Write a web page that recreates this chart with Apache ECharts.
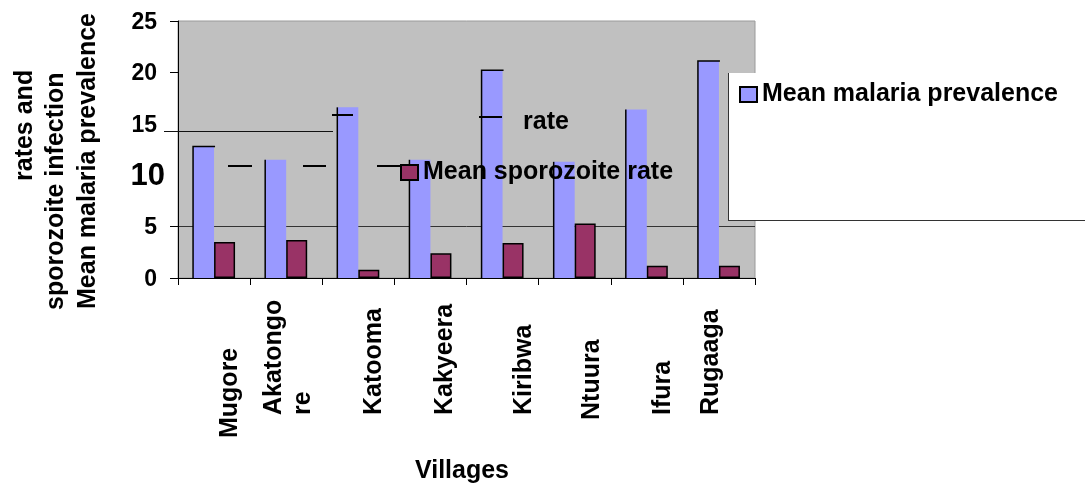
<!DOCTYPE html>
<html>
<head>
<meta charset="utf-8">
<script src="https://cdn.jsdelivr.net/npm/echarts@6/dist/echarts.min.js"></script>
<style>
html,body{margin:0;padding:0;background:#fff;}
#chart{width:1085px;height:483px;}
</style>
</head>
<body>
<div id="chart"></div>
<script>
// ---- data ----
const villages = ['Mugore', 'Akatongore', 'Katooma', 'Kakyeera', 'Kiribwa', 'Ntuura', 'Ifura', 'Rugaaga'];
const villageLabels = ['Mugore', 'Akatongo\nre', 'Katooma', 'Kakyeera', 'Kiribwa', 'Ntuura', 'Ifura', 'Rugaaga'];
const malariaPrevalence = [12.8, 11.5, 16.6, 11.5, 20.2, 11.3, 16.4, 21.1];
const sporozoiteRate = [3.5, 3.7, 0.8, 2.4, 3.4, 5.3, 1.2, 1.2];
const yTicks = [0, 5, 10, 15, 20, 25];
const yTickMarks = [0, 5, 20, 25];
const seriesNames = ['Mean malaria prevalence', 'Mean sporozoite rate'];
const axisTitleLines = ['rates and', 'sporozoite infection', 'Mean malaria prevalence'];
const xAxisTitle = 'Villages';

// ---- styling ----
const FONT = "'Liberation Sans', Arial, sans-serif";
const BLUE = '#9999FF', MAROON = '#993366', PLOT_BG = '#C0C0C0';
const labelShift = [16, 2.5, 16, 15, 22, 17, 16, -8];   // perpendicular label nudges (px)
const labelStart = [0, 23, 23, 23, 23, 18, 23, 23];     // distance from label anchor (px)
const blueTopEdge = [true, false, false, false, true, false, false, true];

const rich = {};
villages.forEach((v, i) => {
  const d = labelShift[i];
  const lh = i === 1 ? 29 : 25;
  rich['L' + i] = {
    fontFamily: FONT, fontSize: 25, fontWeight: 'bold', color: '#000',
    lineHeight: lh,
    padding: [Math.max(0, 2 * d), 0, Math.max(0, -2 * d), labelStart[i]]
  };
});

const chart = echarts.init(document.getElementById('chart'), null, {renderer: 'canvas'});

const option = {
  animation: false,
  backgroundColor: '#fff',
  grid: {left: 178, top: 21, width: 577, height: 257, show: true, containLabel: false,
         outerBoundsMode: 'none',
         backgroundColor: PLOT_BG, borderColor: '#9a9a9a', borderWidth: 1},
  xAxis: {
    type: 'category', data: villages,
    axisLine: {lineStyle: {color: '#000', width: 1}},
    axisTick: {show: true, length: 7, lineStyle: {color: '#000'}},
    axisLabel: {
      interval: 0, rotate: 90, align: 'left', verticalAlign: 'middle', margin: 160,
      formatter: (v, i) => villageLabels[i].split('\n').map(s => '{L' + i + '|' + s + '}').join('\n'),
      rich: rich
    },
    name: xAxisTitle, nameLocation: 'middle', nameGap: 181,
    nameTextStyle: {fontFamily: FONT, fontSize: 25, fontWeight: 'bold', color: '#000', padding: [0, 9, 0, 0]}
  },
  yAxis: {
    type: 'value', min: 0, max: 25, interval: 5,
    axisLine: {show: true, lineStyle: {color: '#000', width: 1}},
    axisTick: {show: true, length: 8, customValues: yTickMarks, lineStyle: {color: '#000'}},
    axisLabel: {
      margin: 13,
      customValues: yTicks,
      formatter: v => v === 10 ? '{big|' + v + '}' : '{n|' + v + '}',
      rich: {
        n: {fontFamily: FONT, fontSize: 23, fontWeight: 'bold', color: '#000', padding: [3, 8, 0, 0]},
        big: {fontFamily: FONT, fontSize: 31, fontWeight: 'bold', color: '#000', padding: [2, 0, 0, 0]}
      }
    },
    splitLine: {show: true, lineStyle: {color: ['#333', '#333', 'rgba(0,0,0,0)', 'rgba(0,0,0,0)', '#444', '#222'], width: 1}}
  },
  legend: [
    {data: [{name: seriesNames[0], itemStyle: {borderColor: '#000', borderWidth: 2}}],
     left: 739, top: 82, padding: 0, icon: 'rect', itemWidth: 17, itemHeight: 15, z: 6,
     textStyle: {fontFamily: FONT, fontSize: 25, fontWeight: 'bold', color: '#000'}},
    {data: [{name: seriesNames[1], itemStyle: {borderColor: '#000', borderWidth: 2}}],
     left: 400, top: 160, padding: 0, icon: 'rect', itemWidth: 17, itemHeight: 15, z: 6,
     textStyle: {fontFamily: FONT, fontSize: 25, fontWeight: 'bold', color: '#000'}}
  ],
  series: [
    {name: seriesNames[0], type: 'bar', data: malariaPrevalence, barWidth: 21, barGap: '0%',
     itemStyle: {color: BLUE, borderWidth: 0}},
    {name: seriesNames[1], type: 'bar', data: sporozoiteRate, barWidth: 21, barGap: '0%',
     itemStyle: {color: MAROON, borderColor: '#000', borderWidth: 1.5}},
    {name: 'edges', type: 'custom', z: 3, silent: true,
     data: malariaPrevalence.map((v, i) => [i, v]),
     renderItem: (params, api) => {
       const top = api.coord([api.value(0), api.value(1)]);
       const base = api.coord([api.value(0), 0]);
       const xl = top[0] - 21;
       const pts = blueTopEdge[params.dataIndex]
         ? [[xl, base[1]], [xl, top[1]], [top[0] + 1, top[1]]]
         : [[xl, base[1]], [xl, top[1]]];
       return {type: 'polyline', shape: {points: pts},
               style: {stroke: '#000', lineWidth: 1.5, fill: null}};
     }}
  ]
};
chart.setOption(option);

// decorations (legend box, stray texts/lines of the original rendering)
const g = [
  {type: 'rect', z: 4, shape: {x: 728, y: 73, width: 400, height: 147}, style: {fill: '#fff'}},
  {type: 'line', z: 4, shape: {x1: 728.5, y1: 73, x2: 728.5, y2: 220}, style: {stroke: '#333', lineWidth: 1}},
  {type: 'line', z: 4, shape: {x1: 728, y1: 220.5, x2: 1085, y2: 220.5}, style: {stroke: '#333', lineWidth: 1}},
  {type: 'line', z: 3, shape: {x1: 164, y1: 131.5, x2: 333, y2: 131.5}, style: {stroke: '#111', lineWidth: 1}},
  {type: 'line', z: 3, shape: {x1: 228, y1: 166, x2: 252, y2: 166}, style: {stroke: '#000', lineWidth: 2}},
  {type: 'line', z: 3, shape: {x1: 303, y1: 166, x2: 326, y2: 166}, style: {stroke: '#000', lineWidth: 2}},
  {type: 'line', z: 3, shape: {x1: 377, y1: 166, x2: 400, y2: 166}, style: {stroke: '#000', lineWidth: 2}},
  {type: 'line', z: 3, shape: {x1: 332, y1: 115, x2: 353, y2: 115}, style: {stroke: '#000', lineWidth: 2}},
  {type: 'line', z: 3, shape: {x1: 479, y1: 117, x2: 502, y2: 117}, style: {stroke: '#000', lineWidth: 2}},
  {type: 'text', z: 6, x: 523, y: 122,
   style: {text: 'rate', font: 'bold 25px ' + FONT, fill: '#000', align: 'left', verticalAlign: 'middle'}},
  {type: 'text', z: 6, x: 25, y: 181, rotation: Math.PI / 2,
   style: {text: axisTitleLines[0], font: 'bold 25px ' + FONT, fill: '#000', align: 'left', verticalAlign: 'middle'}},
  {type: 'text', z: 6, x: 56, y: 310, rotation: Math.PI / 2,
   style: {text: axisTitleLines[1], font: 'bold 25px ' + FONT, fill: '#000', align: 'left', verticalAlign: 'middle'}},
  {type: 'text', z: 6, x: 88, y: 309, rotation: Math.PI / 2,
   style: {text: axisTitleLines[2], font: 'bold 25px ' + FONT, fill: '#000', align: 'left', verticalAlign: 'middle'}}
];
chart.setOption({graphic: g});
</script>
</body>
</html>
